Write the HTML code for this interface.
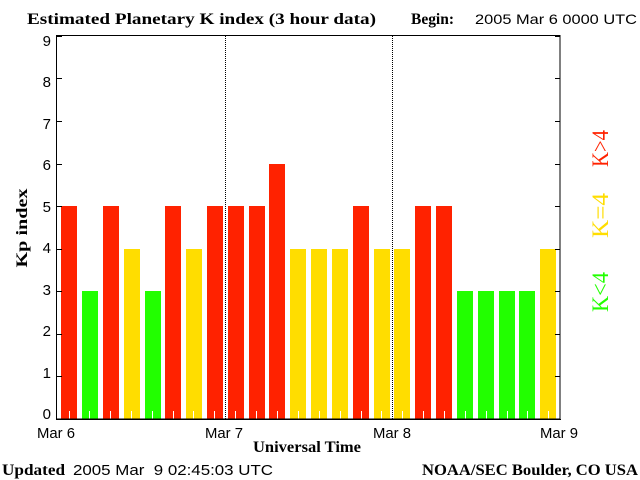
<!DOCTYPE html>
<html>
<head>
<meta charset="utf-8">
<style>
html,body{margin:0;padding:0;background:#fff;}
svg{display:block;}
.serifb{font-family:"Liberation Serif",serif;font-weight:bold;}
.sans{font-family:"Liberation Sans",sans-serif;}
.ser{font-family:"Liberation Serif",serif;}
</style>
</head>
<body>
<svg width="640" height="480" viewBox="0 0 640 480" xmlns="http://www.w3.org/2000/svg">
<rect width="640" height="480" fill="#fff"/>

<!-- Title -->
<text class="serifb" x="27" y="24" font-size="16" textLength="349" lengthAdjust="spacingAndGlyphs">Estimated Planetary K index (3 hour data)</text>
<text class="serifb" x="411" y="24" font-size="16" textLength="43" lengthAdjust="spacingAndGlyphs">Begin:</text>
<text class="sans" x="475" y="24" font-size="14" textLength="162" lengthAdjust="spacingAndGlyphs">2005 Mar 6 0000 UTC</text>

<!-- Bars -->
<g>
<rect x="61" y="206" width="16" height="213" fill="#ff2200"/>
<rect x="82" y="291" width="16" height="128" fill="#22ff00"/>
<rect x="103" y="206" width="16" height="213" fill="#ff2200"/>
<rect x="124" y="249" width="16" height="170" fill="#ffdd00"/>
<rect x="145" y="291" width="16" height="128" fill="#22ff00"/>
<rect x="165" y="206" width="16" height="213" fill="#ff2200"/>
<rect x="186" y="249" width="16" height="170" fill="#ffdd00"/>
<rect x="207" y="206" width="16" height="213" fill="#ff2200"/>
<rect x="228" y="206" width="16" height="213" fill="#ff2200"/>
<rect x="249" y="206" width="16" height="213" fill="#ff2200"/>
<rect x="269" y="164" width="16" height="255" fill="#ff2200"/>
<rect x="290" y="249" width="16" height="170" fill="#ffdd00"/>
<rect x="311" y="249" width="16" height="170" fill="#ffdd00"/>
<rect x="332" y="249" width="16" height="170" fill="#ffdd00"/>
<rect x="353" y="206" width="16" height="213" fill="#ff2200"/>
<rect x="374" y="249" width="16" height="170" fill="#ffdd00"/>
<rect x="394" y="249" width="16" height="170" fill="#ffdd00"/>
<rect x="415" y="206" width="16" height="213" fill="#ff2200"/>
<rect x="436" y="206" width="16" height="213" fill="#ff2200"/>
<rect x="457" y="291" width="16" height="128" fill="#22ff00"/>
<rect x="478" y="291" width="16" height="128" fill="#22ff00"/>
<rect x="499" y="291" width="16" height="128" fill="#22ff00"/>
<rect x="519" y="291" width="16" height="128" fill="#22ff00"/>
<rect x="540" y="249" width="16" height="170" fill="#ffdd00"/>
</g>

<!-- white minor ticks -->
<g stroke="#fff" stroke-width="1">
<line x1="69.5" y1="411" x2="69.5" y2="419"/>
<line x1="89.5" y1="411" x2="89.5" y2="419"/>
<line x1="110.5" y1="411" x2="110.5" y2="419"/>
<line x1="131.5" y1="411" x2="131.5" y2="419"/>
<line x1="152.5" y1="411" x2="152.5" y2="419"/>
<line x1="173.5" y1="411" x2="173.5" y2="419"/>
<line x1="193.5" y1="411" x2="193.5" y2="419"/>
<line x1="214.5" y1="411" x2="214.5" y2="419"/>
<line x1="235.5" y1="411" x2="235.5" y2="419"/>
<line x1="256.5" y1="411" x2="256.5" y2="419"/>
<line x1="277.5" y1="411" x2="277.5" y2="419"/>
<line x1="298.5" y1="411" x2="298.5" y2="419"/>
<line x1="319.5" y1="411" x2="319.5" y2="419"/>
<line x1="340.5" y1="411" x2="340.5" y2="419"/>
<line x1="361.5" y1="411" x2="361.5" y2="419"/>
<line x1="381.5" y1="411" x2="381.5" y2="419"/>
<line x1="402.5" y1="411" x2="402.5" y2="419"/>
<line x1="423.5" y1="411" x2="423.5" y2="419"/>
<line x1="444.5" y1="411" x2="444.5" y2="419"/>
<line x1="465.5" y1="411" x2="465.5" y2="419"/>
<line x1="486.5" y1="411" x2="486.5" y2="419"/>
<line x1="507.5" y1="411" x2="507.5" y2="419"/>
<line x1="527.5" y1="411" x2="527.5" y2="419"/>
<line x1="548.5" y1="411" x2="548.5" y2="419"/>
</g>

<!-- dotted day lines -->
<g stroke="#000" stroke-width="1" stroke-dasharray="1 1">
<line x1="225.5" y1="36" x2="225.5" y2="419"/>
<line x1="392.5" y1="36" x2="392.5" y2="419"/>
</g>

<!-- Frame -->
<rect x="56.5" y="35.5" width="503.5" height="383.5" fill="none" stroke="#000" stroke-width="1"/>
<line x1="56" y1="419.5" x2="561" y2="419.5" stroke="#000" stroke-width="1"/>

<!-- Y ticks -->
<g stroke="#000" stroke-width="1">
<line x1="56" y1="36.5" x2="62" y2="36.5"/><line x1="555" y1="36.5" x2="560" y2="36.5"/>
<line x1="56" y1="78.5" x2="62" y2="78.5"/><line x1="555" y1="78.5" x2="560" y2="78.5"/>
<line x1="56" y1="121.5" x2="62" y2="121.5"/><line x1="555" y1="121.5" x2="560" y2="121.5"/>
<line x1="56" y1="164.5" x2="62" y2="164.5"/><line x1="555" y1="164.5" x2="560" y2="164.5"/>
<line x1="56" y1="206.5" x2="62" y2="206.5"/><line x1="555" y1="206.5" x2="560" y2="206.5"/>
<line x1="56" y1="249.5" x2="62" y2="249.5"/><line x1="555" y1="249.5" x2="560" y2="249.5"/>
<line x1="56" y1="291.5" x2="62" y2="291.5"/><line x1="555" y1="291.5" x2="560" y2="291.5"/>
<line x1="56" y1="334.5" x2="62" y2="334.5"/><line x1="555" y1="334.5" x2="560" y2="334.5"/>
<line x1="56" y1="376.5" x2="62" y2="376.5"/><line x1="555" y1="376.5" x2="560" y2="376.5"/>
</g>

<!-- Y labels -->
<g class="sans" font-size="15" text-anchor="end">
<text x="51" y="46">9</text>
<text x="51" y="87">8</text>
<text x="51" y="129">7</text>
<text x="51" y="170">6</text>
<text x="51" y="212">5</text>
<text x="51" y="253">4</text>
<text x="51" y="295">3</text>
<text x="51" y="336">2</text>
<text x="51" y="378">1</text>
<text x="51" y="419">0</text>
</g>

<!-- X labels -->
<g class="sans" font-size="15" text-anchor="middle">
<text x="56" y="438" textLength="38" lengthAdjust="spacingAndGlyphs">Mar 6</text>
<text x="224" y="438" textLength="38" lengthAdjust="spacingAndGlyphs">Mar 7</text>
<text x="392" y="438" textLength="38" lengthAdjust="spacingAndGlyphs">Mar 8</text>
<text x="559" y="438" textLength="38" lengthAdjust="spacingAndGlyphs">Mar 9</text>
</g>

<text class="serifb" x="253" y="452" font-size="16" textLength="108" lengthAdjust="spacingAndGlyphs">Universal Time</text>

<!-- Y axis title -->
<text class="serifb" transform="translate(27,228) rotate(-90)" font-size="16" text-anchor="middle" textLength="79" lengthAdjust="spacingAndGlyphs">Kp index</text>

<!-- Legend -->
<text class="ser" transform="translate(608,148.5) rotate(-90)" font-size="23" text-anchor="middle" fill="#ff2200" textLength="37" lengthAdjust="spacingAndGlyphs">K&gt;4</text>
<text class="ser" transform="translate(608,215.5) rotate(-90)" font-size="23" text-anchor="middle" fill="#ffdd00" textLength="45" lengthAdjust="spacingAndGlyphs">K=4</text>
<text class="ser" transform="translate(608,292) rotate(-90)" font-size="23" text-anchor="middle" fill="#22ff00" textLength="40" lengthAdjust="spacingAndGlyphs">K&lt;4</text>

<!-- Footer -->
<text class="serifb" x="2" y="475" font-size="16" textLength="63" lengthAdjust="spacingAndGlyphs">Updated</text>
<text class="sans" x="73" y="475" font-size="15" textLength="200" lengthAdjust="spacingAndGlyphs" xml:space="preserve" style="white-space:pre">2005 Mar  9 02:45:03 UTC</text>
<text class="serifb" x="422" y="475" font-size="16" textLength="216" lengthAdjust="spacingAndGlyphs">NOAA/SEC Boulder, CO USA</text>
</svg>
</body>
</html>
